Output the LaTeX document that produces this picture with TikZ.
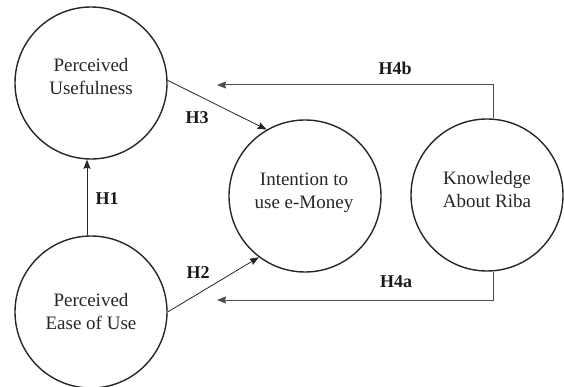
\documentclass[tikz,border=0pt]{standalone}
\usepackage{fontspec}
\setmainfont{Liberation Serif}
\usetikzlibrary{arrows.meta}
\begin{document}
\begin{tikzpicture}[x=1pt,y=-1pt,
  circ/.style={draw=black!85,line width=1.4pt,circle,minimum size=152pt,inner sep=0pt},
  txt/.style={align=center,font=\fontsize{19}{23}\selectfont,text=black!85},
  lab/.style={font=\fontsize{18}{20}\selectfont\bfseries,text=black!90},
  arr/.style={draw=black!85,line width=0.8pt,-{Stealth[length=9pt,width=7pt,inset=1pt]}},
  garr/.style={draw=black!70,line width=1pt,-{Stealth[length=9pt,width=7pt,inset=1pt]}}]
\useasboundingbox (0,0) rectangle (564,387);
\node[circ] (pu) at (91,83) {};
\node[circ] (peu) at (91,312) {};
\node[circ] (int) at (305,196) {};
\node[circ] (kr) at (487,195) {};
\node[txt] (tpu) at (91,77) {Perceived\\Usefulness};
\node[txt] (tpeu) at (91,311) {Perceived\\Ease of Use};
\node[txt] (tint) at (304,193) {Intention to\\use e-Money};
\node[txt] (tkr) at (487,190) {Knowledge\\About Riba};
\coordinate (b4) at (217,85);
\coordinate (a4) at (217,300);
\draw[arr] ([xshift=-4pt]peu.north) -- ([xshift=-4pt]pu.south);
\draw[arr] (pu.2) -- (int.120);
\draw[arr] (peu.0) -- (int.233);
\draw[garr] ([xshift=6pt]kr.north) |- (b4);
\draw[garr] ([xshift=6pt]kr.south) |- (a4);
\node[lab] (h1) at (107,199) {H1};
\node[lab] (h2) at (198,273) {H2};
\node[lab] (h3) at (197,118) {H3};
\node[lab] (h4b) at (395,68) {H4b};
\node[lab] (h4a) at (396,282) {H4a};
\end{tikzpicture}
\end{document}
